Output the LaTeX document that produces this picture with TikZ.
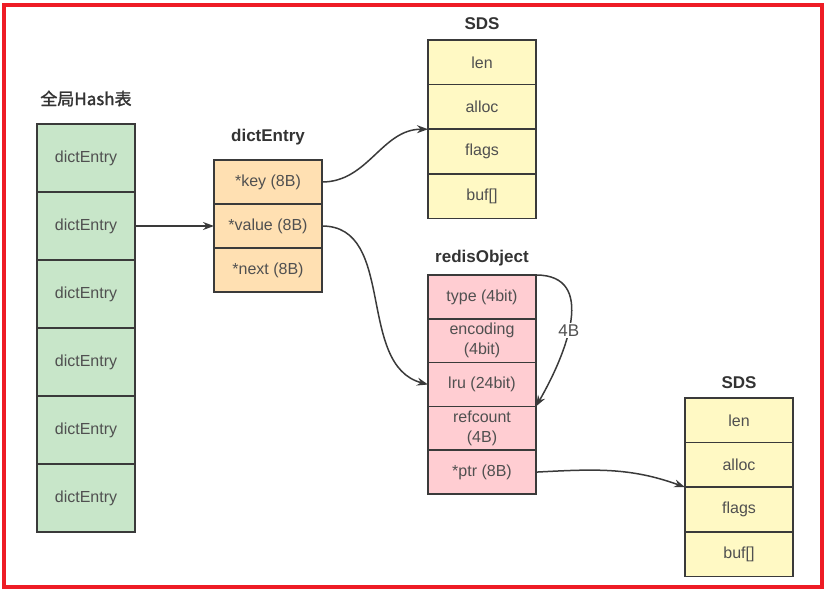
\documentclass[tikz,border=0pt]{standalone}
\usepackage{fontspec}
\setmainfont{Liberation Sans}
\newfontfamily\cjkfont[AutoFakeBold=1.5]{Noto Sans CJK SC}
\usetikzlibrary{arrows.meta, positioning}
\definecolor{verde}{HTML}{C8E6C9}
\definecolor{naranja}{HTML}{FFE0B2}
\definecolor{amarillo}{HTML}{FFF9C4}
\definecolor{rosa}{HTML}{FFCDD2}
\definecolor{borde}{HTML}{3A3A3A}
\definecolor{texto}{HTML}{505050}
\definecolor{oscuro}{HTML}{333333}
\definecolor{rojo}{HTML}{EE1C25}

\begin{document}
\begin{tikzpicture}[
  x=1pt, y=1pt,
  font=\fontsize{16}{20}\selectfont,
  celda/.style={draw=borde, line width=1.5pt, text=texto, minimum width=108pt,
    minimum height=44pt, inner sep=0pt, outer sep=0pt, align=center},
  hash/.style={celda, fill=verde, minimum width=98pt, minimum height=68pt},
  entrada/.style={celda, fill=naranja},
  sds/.style={celda, fill=amarillo, minimum height=44.6pt},
  objeto/.style={celda, fill=rosa, minimum height=43.8pt},
  titulo/.style={font=\fontsize{17}{20}\selectfont\bfseries, text=oscuro},
  arr/.style={-{Stealth[length=11pt, width=8pt]}, line width=1.5pt, borde},
]
\useasboundingbox (0,0) rectangle (829,-592);
\draw[rojo, line width=3.5pt] (4,-5) rectangle (822,-587);

% --- Tabla hash global ---
\node[hash] (h1) at (86,-158) {dictEntry};
\node[hash, below=0pt of h1] (h2) {dictEntry};
\node[hash, below=0pt of h2] (h3) {dictEntry};
\node[hash, below=0pt of h3] (h4) {dictEntry};
\node[hash, below=0pt of h4] (h5) {dictEntry};
\node[hash, below=0pt of h5] (h6) {dictEntry};
\node[titulo, above=14pt of h1] {\cjkfont\bfseries 全局Hash表};

% --- dictEntry ---
\node[entrada] (dk) at (268,-182) {*key (8B)};
\node[entrada, below=0pt of dk] (dv) {*value (8B)};
\node[entrada, below=0pt of dv] (dn) {*next (8B)};
\node[titulo, above=11pt of dk] {dictEntry};

% --- SDS de la clave ---
\node[sds] (s1) at (482,-62.3) {len};
\node[sds, below=0pt of s1] (s2) {alloc};
\node[sds, below=0pt of s2] (s3) {flags};
\node[sds, below=0pt of s3] (s4) {buf[]};
\node[titulo, above=7pt of s1] {SDS};

% --- redisObject ---
\node[objeto] (r1) at (482,-296.9) {type (4bit)};
\node[objeto, below=0pt of r1] (r2) {encoding\\(4bit)};
\node[objeto, below=0pt of r2] (r3) {lru (24bit)};
\node[objeto, below=0pt of r3] (r4) {refcount\\(4B)};
\node[objeto, below=0pt of r4] (r5) {*ptr (8B)};
\node[titulo, above=5pt of r1] {redisObject};

% --- SDS del valor ---
\node[sds] (t1) at (739,-420.3) {len};
\node[sds, below=0pt of t1] (t2) {alloc};
\node[sds, below=0pt of t2] (t3) {flags};
\node[sds, below=0pt of t3] (t4) {buf[]};
\node[titulo, above=6pt of t1] {SDS};

% --- Punteros ---
\draw[arr] (h2.east) -- (dv.west);
\draw[arr] (dk.east) to[out=0, in=180] (s2.south west);
\draw[arr] (dv.east) to[out=0, in=165] (r3.west);
\draw[arr] (r1.north east) to[out=0, in=60, looseness=1.2]
  node[pos=0.56, fill=white, inner sep=2pt, text=texto, font=\fontsize{17}{20}\selectfont]{4B} (r4.north east);
\draw[arr] (r5.east) to[out=3, in=160] (t2.south west);

\end{tikzpicture}
\end{document}
